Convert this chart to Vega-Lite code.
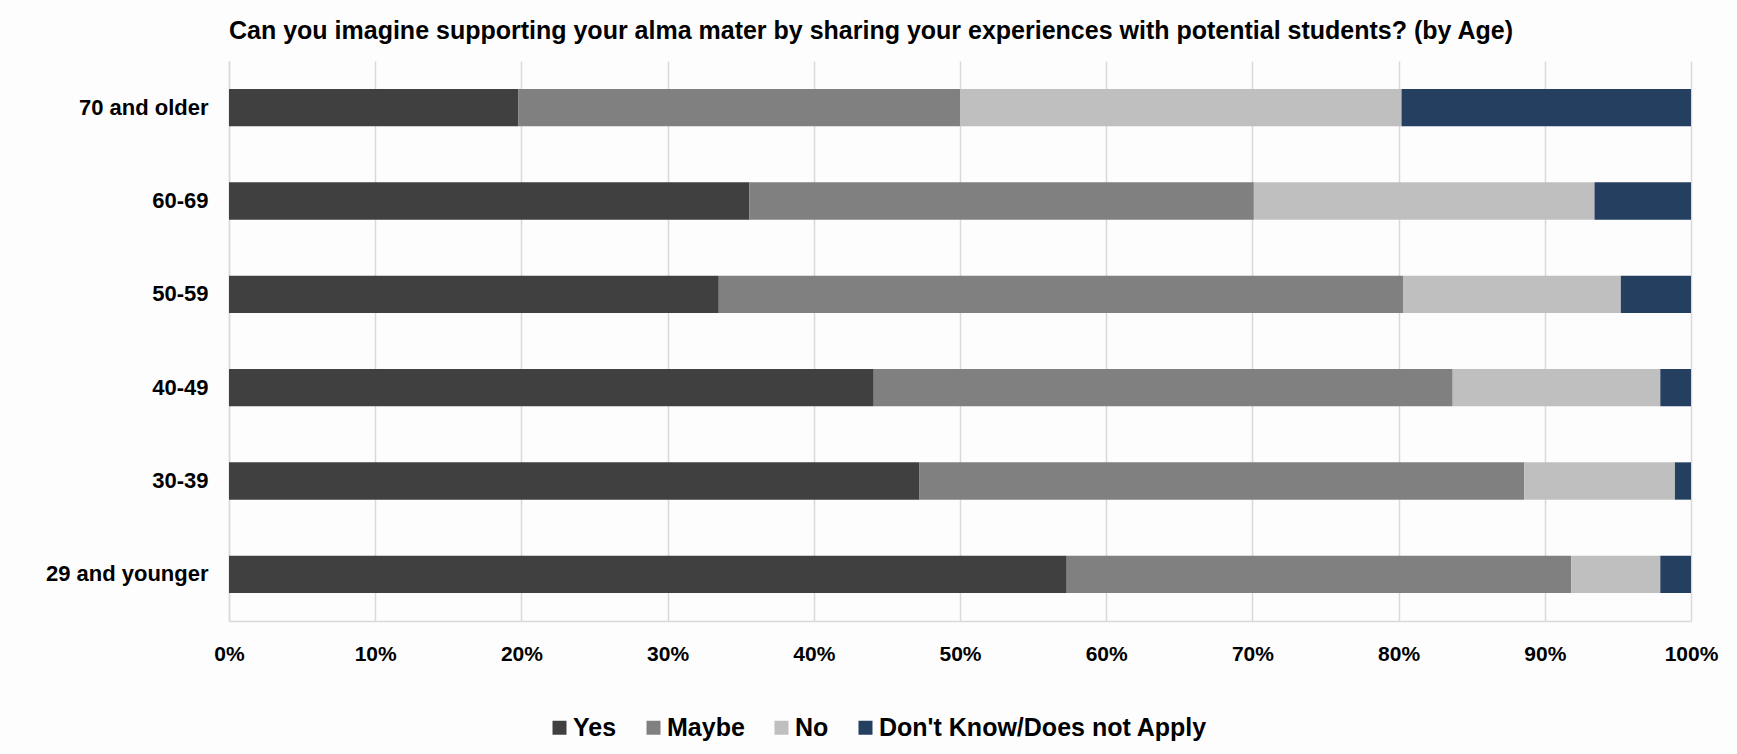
{
  "$schema": "https://vega.github.io/schema/vega-lite/v6.json",
  "autosize": {"type": "none"},
  "padding": {"left": 229, "top": 61, "right": 46, "bottom": 133},
  "width": 1462,
  "height": 560,
  "background": "#fdfdfd",
  "title": {
    "text": "Can you imagine supporting your alma mater by sharing your experiences with potential students? (by Age)",
    "anchor": "start",
    "frame": "group",
    "font": "Liberation Sans",
    "fontSize": 25,
    "fontWeight": "bold",
    "color": "#000000",
    "offset": 17
  },
  "data": {
    "values": [
      {"age": "70 and older", "response": "Yes", "pct": 19.8},
      {"age": "70 and older", "response": "Maybe", "pct": 30.2},
      {"age": "70 and older", "response": "No", "pct": 30.2},
      {"age": "70 and older", "response": "Don't Know/Does not Apply", "pct": 19.8},
      {"age": "60-69", "response": "Yes", "pct": 35.6},
      {"age": "60-69", "response": "Maybe", "pct": 34.5},
      {"age": "60-69", "response": "No", "pct": 23.3},
      {"age": "60-69", "response": "Don't Know/Does not Apply", "pct": 6.6},
      {"age": "50-59", "response": "Yes", "pct": 33.5},
      {"age": "50-59", "response": "Maybe", "pct": 46.8},
      {"age": "50-59", "response": "No", "pct": 14.9},
      {"age": "50-59", "response": "Don't Know/Does not Apply", "pct": 4.8},
      {"age": "40-49", "response": "Yes", "pct": 44.1},
      {"age": "40-49", "response": "Maybe", "pct": 39.6},
      {"age": "40-49", "response": "No", "pct": 14.2},
      {"age": "40-49", "response": "Don't Know/Does not Apply", "pct": 2.1},
      {"age": "30-39", "response": "Yes", "pct": 47.2},
      {"age": "30-39", "response": "Maybe", "pct": 41.4},
      {"age": "30-39", "response": "No", "pct": 10.3},
      {"age": "30-39", "response": "Don't Know/Does not Apply", "pct": 1.1},
      {"age": "29 and younger", "response": "Yes", "pct": 57.3},
      {"age": "29 and younger", "response": "Maybe", "pct": 34.5},
      {"age": "29 and younger", "response": "No", "pct": 6.1},
      {"age": "29 and younger", "response": "Don't Know/Does not Apply", "pct": 2.1}
    ]
  },
  "transform": [
    {"window": [{"op": "row_number", "as": "rank"}], "groupby": ["age"]}
  ],
  "mark": {"type": "bar"},
  "encoding": {
    "y": {
      "field": "age",
      "type": "nominal",
      "sort": ["70 and older", "60-69", "50-59", "40-49", "30-39", "29 and younger"],
      "scale": {"paddingInner": 0.6, "paddingOuter": 0.3},
      "axis": {
        "title": null,
        "ticks": false,
        "domain": true,
        "domainColor": "#d9d9d9",
        "domainWidth": 1.5,
        "labelFont": "Liberation Sans",
        "labelFontSize": 22,
        "labelFontWeight": "bold",
        "labelColor": "#000000",
        "labelPadding": 21
      }
    },
    "x": {
      "field": "pct",
      "type": "quantitative",
      "stack": "normalize",
      "scale": {"domain": [0, 1], "nice": false},
      "axis": {
        "title": null,
        "format": "%",
        "values": [0, 0.1, 0.2, 0.3, 0.4, 0.5, 0.6, 0.7, 0.8, 0.9, 1],
        "ticks": false,
        "grid": true,
        "gridColor": "#d9d9d9",
        "gridWidth": 1.5,
        "domain": true,
        "domainColor": "#d9d9d9",
        "domainWidth": 1.5,
        "labelFont": "Liberation Sans",
        "labelFontSize": 21,
        "labelFontWeight": "bold",
        "labelColor": "#000000",
        "labelPadding": 22,
        "labelFlush": false
      }
    },
    "order": {"field": "rank", "type": "quantitative", "sort": "ascending"},
    "color": {
      "field": "response",
      "type": "nominal",
      "scale": {
        "domain": ["Yes", "Maybe", "No", "Don't Know/Does not Apply"],
        "range": ["#404040", "#808080", "#bfbfbf", "#243f60"]
      },
      "legend": {
        "title": null,
        "orient": "none",
        "direction": "horizontal",
        "legendX": 318,
        "legendY": 654,
        "symbolType": "square",
        "symbolSize": 196,
        "symbolStrokeWidth": 0,
        "labelFont": "Liberation Sans",
        "labelFontSize": 25,
        "labelFontWeight": "bold",
        "labelColor": "#000000",
        "labelOffset": 1,
        "columnPadding": 24,
        "labelLimit": 500
      }
    }
  },
  "config": {
    "view": {"stroke": null}
  }
}
